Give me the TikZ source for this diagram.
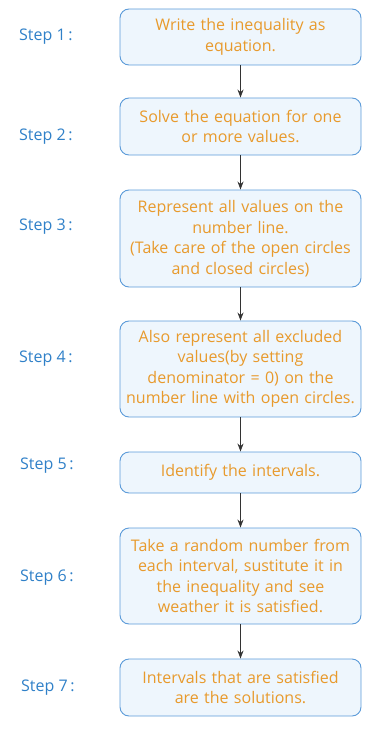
\documentclass[tikz,border=0pt]{standalone}
\usepackage{fontspec}
\setmainfont{Open Sans}
\definecolor{stepblue}{HTML}{2F80C8}
\definecolor{txtorange}{HTML}{E89A2C}
\definecolor{boxfill}{HTML}{EEF6FD}
\definecolor{boxline}{HTML}{5C9BD9}
\definecolor{arrowgray}{HTML}{333333}
\tikzset{
  stepbox/.style={rectangle,rounded corners=9bp,draw=boxline,line width=0.9bp,fill=boxfill,
    minimum width=241bp,text width=238bp,align=center,inner sep=0pt,
    text=txtorange,font=\fontsize{16bp}{20.5bp}\selectfont},
  steplabel/.style={anchor=west,text=stepblue,inner sep=0pt,font=\fontsize{16bp}{18bp}\selectfont},
  flow/.style={-{Stealth[length=8bp,width=6bp]},draw=arrowgray,line width=0.8bp}
}
\usetikzlibrary{arrows.meta}
\begin{document}
\begin{tikzpicture}[x=1bp,y=-1bp]
   \useasboundingbox (0,0) rectangle (383,729);
   % Boxes
   \node[stepbox,minimum height=56bp] (s1) at (240.5,37) {Write the inequality as\\equation.};
   \node[stepbox,minimum height=57bp] (s2) at (240.5,126.5) {Solve the equation for one\\or more values.};
   \node[stepbox,minimum height=97bp] (s3) at (240.5,238.5) {Represent all values on the\\number line.\\(Take care of the open circles\\and closed circles)};
   \node[stepbox,minimum height=96bp] (s4) at (240.5,369) {Also represent all excluded\\values(by setting\\denominator = 0) on the\\number line with open circles.};
   \node[stepbox,minimum height=41bp] (s5) at (240.5,472.5) {Identify the intervals.};
   \node[stepbox,minimum height=96bp] (s6) at (240.5,576) {Take a random number from\\each interval, sustitute it in\\the inequality and see\\weather it is satisfied.};
   \node[stepbox,minimum height=57bp] (s7) at (240.5,687.5) {Intervals that are satisfied\\are the solutions.};
   % Labels
   \node[steplabel] (l1) at (19,37) {Step 1\,:};
   \node[steplabel] (l2) at (19,137) {Step 2\,:};
   \node[steplabel] (l3) at (19,227) {Step 3\,:};
   \node[steplabel] (l4) at (19,359) {Step 4\,:};
   \node[steplabel] (l5) at (20,466) {Step 5\,:};
   \node[steplabel] (l6) at (20,578) {Step 6\,:};
   \node[steplabel] (l7) at (21,688) {Step 7\,:};
   % Arrows
   \foreach \a/\b in {s1/s2,s2/s3,s3/s4,s4/s5,s5/s6,s6/s7}
     \draw[flow] (\a) -- (\b);
\end{tikzpicture}
\end{document}
